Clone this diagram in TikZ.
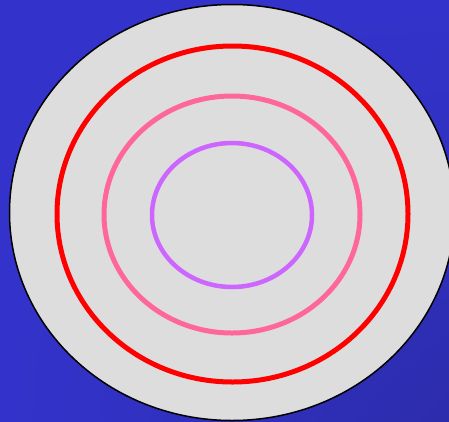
\documentclass[tikz,border=0pt]{standalone}
\usetikzlibrary{calc, shadings}
\definecolor{cbg}{RGB}{51, 51, 204}
\definecolor{cbgdark}{RGB}{44, 44, 172}
\definecolor{cdisc}{RGB}{221, 221, 221}
\definecolor{cpink}{RGB}{255, 102, 153}
\definecolor{cviolet}{RGB}{204, 102, 255}
\tikzset{
	ring/.style={line width=5pt},
}
\begin{document}
\begin{tikzpicture}[x=1pt, y=-1pt]
	% background
	\shade[upper left=cbg, upper right=cbg, lower left=cbg, lower right=cbgdark] (0,0) rectangle (449,421);
	\useasboundingbox (0,0) rectangle (449,421);
	\coordinate (center) at (232,212.5);

	\begin{scope}
		\clip (0,0) rectangle (449,421);
		\draw[fill=cdisc, draw=black, line width=1.5pt] (center) ellipse [x radius=222.5, y radius=208];
	\end{scope}

	\draw[ring, draw=red] ($(center)+(0.5,1.5)$) ellipse [x radius=175.5, y radius=168];
	\draw[ring, draw=cpink] ($(center)+(0,2)$) ellipse [x radius=128, y radius=118.5];
	\draw[ring, draw=cviolet, line width=4.5pt] ($(center)+(0,2.5)$) ellipse [x radius=80, y radius=72];
\end{tikzpicture}
\end{document}
